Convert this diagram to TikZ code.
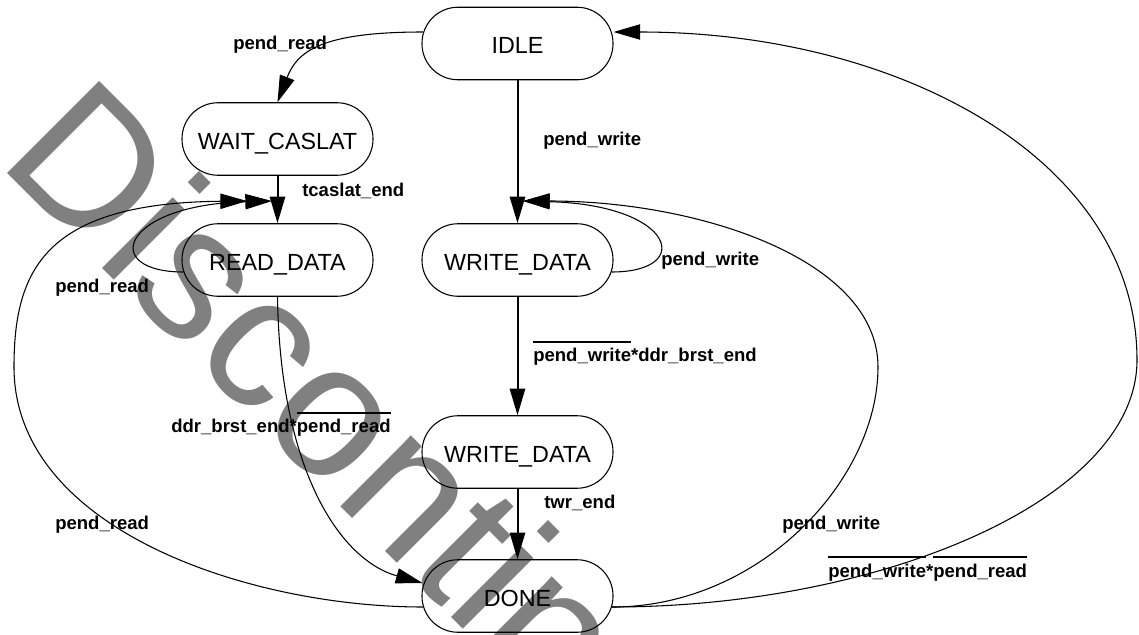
\documentclass[tikz,border=0pt]{standalone}
\usepackage{fontspec}
\newfontfamily\lsans{Liberation Sans}
\usetikzlibrary{arrows.meta}
\definecolor{wmgray}{gray}{0.5}
% negated signal: text with a bar over it
\newsavebox\sigbox
\newcommand\negsig[1]{\sbox\sigbox{#1}\rlap{\rule[14pt]{\wd\sigbox}{1.5pt}}\usebox\sigbox}

\begin{document}
\begin{tikzpicture}[x=0.75pt,y=-0.75pt,
  state/.style={draw, line width=0.8pt, rounded corners=27pt,
    minimum width=143.25pt, minimum height=54.4pt, inner sep=0pt,
    font=\lsans\fontsize{17.5pt}{17.5pt}\selectfont,
    text height=15.5pt, text depth=0pt},
  cond/.style={anchor=base west, inner sep=0pt,
    font=\lsans\bfseries\fontsize{13.9pt}{14pt}\selectfont},
  bigtip/.style={-{Triangle[length=20pt,width=11.5pt]}},
  straight/.style={bigtip, line width=1.5pt},
  curved/.style={bigtip, line width=0.8pt},
  wm/.style={rotate=-45, anchor=base west, inner sep=0pt, text=wmgray,
    font=\lsans\fontsize{142pt}{142pt}\selectfont}]

\useasboundingbox (0,0) rectangle (1139,635);
\fill[white] (0,0) rectangle (1139,635);
\clip (0,0) rectangle (1139,635);

% watermark behind the diagram
\node[wm] (wmark) at (-3.6,162.4) {Discontinued};

% states
\node[state] (idle) at (517.5,43.5)  {IDLE};
\node[state] (wc)   at (277.5,139)   {WAIT\_CASLAT};
\node[state] (rd)   at (277.5,260)   {READ\_DATA};
\node[state] (wd1)  at (517.5,260)   {WRITE\_DATA};
\node[state] (wd2)  at (517.5,452)   {WRITE\_DATA};
\node[state] (done) at (517.5,596)   {DONE};

% arrival points of the loops above READ_DATA and WRITE_DATA
\coordinate (rdin1) at (247,201);
\coordinate (rdin2) at (272,201);
\coordinate (wdin)  at (523,201);

% straight transitions
\draw[straight] (wc.south)  -- (rd.north);
\draw[straight] (idle.south) -- (wd1.north);
\draw[straight] (wd1.south) -- (wd2.north);
\draw[straight] (wd2.south) -- (done.north);

% curved transitions
\draw[curved] ([shift={(1.4,-11.5)}]idle.west)
  .. controls (320,32) and (297,52) .. (wc.north);
\draw[curved] (rd.south)
  .. controls (280,470) and (340,560) .. ([shift={(1,-13)}]done.west);
\draw[curved] ([shift={(1.5,11)}]done.west)
  .. controls (250,607) and (14,530) .. (14,367)
  .. controls (14,270) and (45,203) .. (rdin1);
\draw[curved] ([shift={(2,12)}]rd.west)
  .. controls (100,272) and (120,205) .. (rdin2);
\draw[curved] ([shift={(-2,12)}]wd1.east)
  .. controls (695,272) and (675,205) .. (wdin);
\draw[curved] ([shift={(-1.5,11)}]done.east)
  .. controls (760,607) and (878,480) .. (878,367)
  .. controls (878,260) and (700,201) .. (wdin);
\draw[curved] ([shift={(-1.5,11)}]done.east)
  .. controls (880,607) and (1137,500) .. (1137,360)
  .. controls (1137,160) and (900,32) .. ([shift={(0,-11.5)}]idle.east);

% transition conditions
\node[cond] (c1)  at (233,49.3)  {pend\_read};
\node[cond] (c2)  at (302,196.7) {tcaslat\_end};
\node[cond] (c3)  at (543,145.7) {pend\_write};
\node[cond] (c4)  at (55,292)    {pend\_read};
\node[cond] (c5)  at (661,265)   {pend\_write};
\node[cond] (c6)  at (533,361.5) {\negsig{pend\_write}*ddr\_brst\_end};
\node[cond] (c7)  at (171,432.7) {ddr\_brst\_end*\negsig{pend\_read}};
\node[cond] (c8)  at (544,508)   {twr\_end};
\node[cond] (c9)  at (55,529)    {pend\_read};
\node[cond] (c10) at (782,529)   {pend\_write};
\node[cond] (c11) at (828,577)   {\negsig{pend\_write}*\negsig{pend\_read}};
\end{tikzpicture}
\end{document}
